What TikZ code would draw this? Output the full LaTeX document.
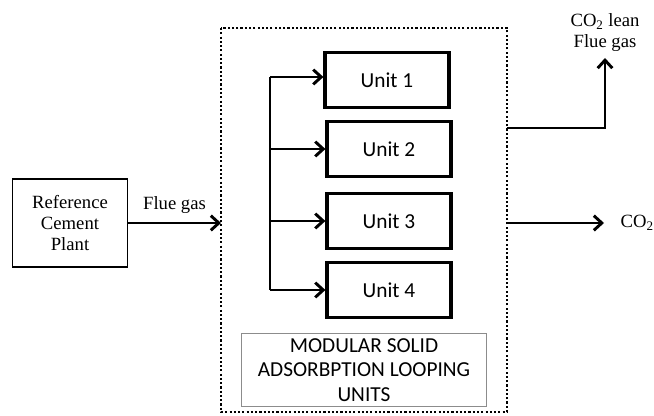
\documentclass[tikz,border=0pt]{standalone}
\usepackage{fontspec}
\setmainfont{Liberation Serif}
\newfontfamily\unitfont{Carlito}
\usetikzlibrary{arrows.meta, positioning, calc}
\tikzset{
  plant/.style={
    rectangle, draw=black, line width=1pt, minimum width=86pt, minimum height=66pt,
    align=center, font=\fontsize{14}{16}\selectfont
  },
  unitbox/.style={
    rectangle, draw=black, line width=2.4pt, minimum width=93pt, minimum height=41pt,
    font=\unitfont\fontsize{16}{19}\selectfont
  },
  modbox/.style={
    rectangle, draw=black!45, line width=0.8pt, minimum width=184pt, minimum height=55pt,
    align=center, inner sep=1pt, font=\unitfont\fontsize{16}{18.5}\selectfont
  },
  flow/.style={-{Straight Barb[length=6pt, width=11pt, line width=2.2pt]}, line width=2.2pt},
  dottedbox/.style={draw=black, line width=1.9pt, dash pattern=on 1.6pt off 1.6pt},
  lbl/.style={font=\fontsize{14}{16}\selectfont, align=center}
}
\begin{document}
\begin{tikzpicture}[x=0.75pt, y=-0.75pt]
  \useasboundingbox (0,0) rectangle (654,416);

  % Dotted module boundary
  \coordinate (dtl) at (221,28);
  \coordinate (dbr) at (507,412);
  \draw[dottedbox] (dtl) rectangle (dbr);

  % Plant
  \node[plant] (plant) at (70,223) {Reference\\Cement\\Plant};
  \coordinate (inlet) at (221,223);
  \draw[flow] (plant.east |- inlet) -- (inlet)
    node[midway, above=3pt, lbl] (fluein) {Flue gas};

  % Units
  \node[unitbox] (u1) at (387,80) {Unit 1};
  \node[unitbox] (u2) at (389,149) {Unit 2};
  \node[unitbox] (u3) at (389,221) {Unit 3};
  \node[unitbox] (u4) at (389,290) {Unit 4};

  % Distribution bus
  \coordinate (bus) at (270,0);
  \draw[line width=2.2pt] ($(bus |- u1.west)+(0,-3)$) -- (bus |- u4.west);
  \draw[flow] ($(bus |- u1.west)+(0,-3)$) -- ($(u1.west)+(0,-3)$);
  \foreach \u in {u2, u3, u4} {
    \draw[flow] (bus |- \u.west) -- (\u.west);
  }

  % Label box
  \node[modbox] (modular) at (364,370) {MODULAR SOLID\\ADSORBPTION LOOPING\\UNITS};

  % Outputs
  \coordinate (outlean) at (507,128);
  \coordinate (leantop) at (605,58);
  \draw[flow] (outlean) -| (leantop);
  \node[lbl, above=1pt of leantop] (leanlbl) {CO\textsubscript{2} lean\\Flue gas};

  \coordinate (outco) at (507,223);
  \coordinate (coend) at (604,223);
  \draw[flow] (outco) -- (coend);
  \node[lbl, right=9pt of coend] (colbl) {CO\textsubscript{2}};
\end{tikzpicture}
\end{document}
